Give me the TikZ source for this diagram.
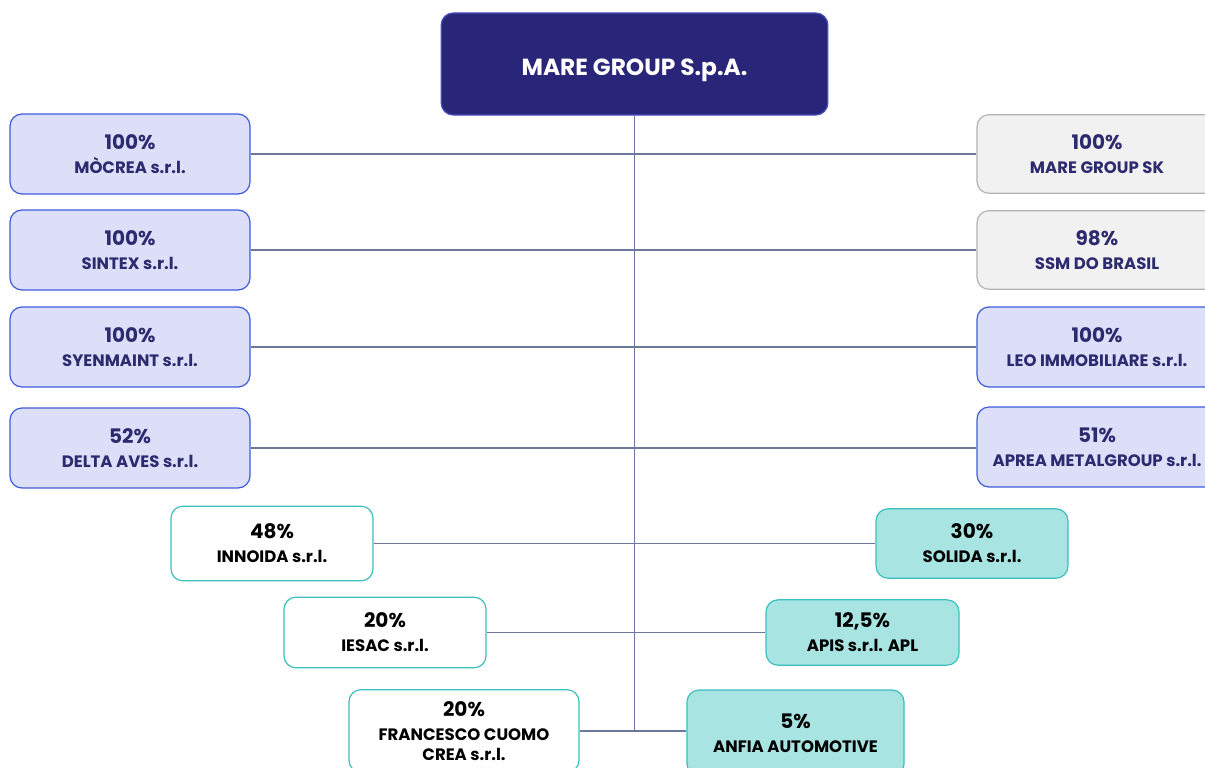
\documentclass[tikz,border=0pt]{standalone}
\usepackage{fontspec}
\setmainfont{Poppins}
\definecolor{marenavy}{RGB}{41, 38, 122}
\definecolor{mareedge}{RGB}{74, 78, 196}
\definecolor{subblue}{RGB}{220, 223, 247}
\definecolor{subedge}{RGB}{63, 91, 219}
\definecolor{subtext}{RGB}{45, 42, 112}
\definecolor{subgrey}{RGB}{241, 241, 241}
\definecolor{greyedge}{RGB}{179, 179, 179}
\definecolor{partteal}{RGB}{168, 228, 226}
\definecolor{tealedge}{RGB}{59, 191, 191}
\definecolor{linkline}{RGB}{108, 119, 153}
\usetikzlibrary{positioning, calc}

\tikzset{
  box/.style={rounded corners=9pt, line width=0.9pt, align=center, inner sep=2pt, font=\bfseries\fontsize{12.4}{18}\selectfont},
  ctrl/.style={box, draw=subedge, fill=subblue, text=subtext, minimum width=180pt, minimum height=60pt},
  foreign/.style={box, draw=greyedge, fill=subgrey, text=subtext, minimum width=180pt, minimum height=59pt},
  minor/.style={box, draw=tealedge, fill=white, text=black, minimum height=54pt},
  assoc/.style={box, draw=tealedge, fill=partteal, text=black, minimum height=50pt},
  link/.style={draw=linkline, line width=0.8pt}
}
\newcommand{\share}[2]{{\fontsize{15}{18}\selectfont #1}\\#2}

\begin{document}
\begin{tikzpicture}[x=0.75pt, y=-0.75pt]
  \clip (0,0) rectangle (1205,767);

  % holding
  \node[box, draw=mareedge, fill=marenavy, text=white, minimum width=290pt, minimum height=76.5pt,
        font=\bfseries\fontsize{17.5}{20}\selectfont] (mare) at (634.5,64) {\raisebox{-4.5pt}[\height][\depth]{MARE GROUP S.p.A.}};

  % controlled companies, left
  \node[ctrl] (mocrea) at (130,154) {\share{100\%}{MÒCREA s.r.l.}};
  \node[ctrl] (sintex) at (130,250) {\share{100\%}{SINTEX s.r.l.}};
  \node[ctrl] (syenmaint) at (130,347) {\share{100\%}{SYENMAINT s.r.l.}};
  \node[ctrl] (deltaaves) at (130,448) {\share{52\%}{DELTA AVES s.r.l.}};

  % controlled companies, right
  \node[foreign] (maresk) at (1097,154) {\share{100\%}{MARE GROUP SK}};
  \node[foreign] (ssmbrasil) at (1097,250) {\share{98\%}{SSM DO BRASIL}};
  \node[ctrl] (leo) at (1097,347) {\share{100\%}{LEO IMMOBILIARE s.r.l.}};
  \node[ctrl] (aprea) at (1097,447) {\share{51\%}{APREA METALGROUP s.r.l.}};

  % minority stakes
  \node[minor, minimum width=151.5pt, minimum height=56pt] (innoida) at (272,543.5) {\share{48\%}{INNOIDA s.r.l.}};
  \node[minor, minimum width=151.5pt, minimum height=53pt] (iesac) at (385,632.5) {\share{20\%}{IESAC s.r.l.}};
  \node[minor, minimum width=172.5pt, minimum height=62pt] (cuomo) at (464,731) {\share{20\%}{FRANCESCO CUOMO\\[-3pt]CREA s.r.l.}};

  \node[assoc, minimum width=144pt, minimum height=52pt] (solida) at (972,543.5) {\share{30\%}{SOLIDA s.r.l.}};
  \node[assoc, minimum width=144.75pt, minimum height=49pt] (apis) at (862.5,632.5) {\share{12,5\%}{APIS s.r.l. APL}};
  \node[assoc, minimum width=162.75pt, minimum height=64.5pt] (anfia) at (795.5,733) {\share{5\%}{ANFIA AUTOMOTIVE}};

  % links
  \draw[link, line width=1.3pt] (mare.south) -- (mare.south |- cuomo.east);
  \draw[link] (mocrea.east) -- (maresk.west);
  \draw[link] (sintex.east) -- (ssmbrasil.west);
  \draw[link] (syenmaint.east) -- (leo.west);
  \draw[link] (deltaaves.east) -- (deltaaves.east -| aprea.west);
  \draw[link] (innoida.east) -- (solida.west);
  \draw[link] (iesac.east) -- (apis.west);
  \draw[link] (cuomo.east) -- (cuomo.east -| anfia.west);
\end{tikzpicture}
\end{document}
